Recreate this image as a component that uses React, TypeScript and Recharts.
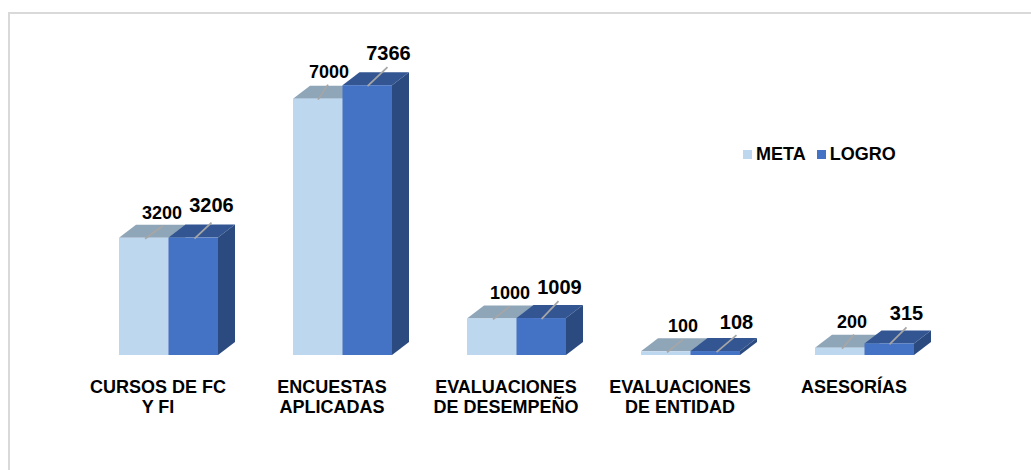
import { BarChart, Bar, XAxis, YAxis, Legend, LabelList } from "recharts"

const categories = [
  "CURSOS DE FC\nY FI",
  "ENCUESTAS\nAPLICADAS",
  "EVALUACIONES\nDE DESEMPEÑO",
  "EVALUACIONES\nDE ENTIDAD",
  "ASESORÍAS",
]
const meta = [3200, 7000, 1000, 100, 200]
const logro = [3206, 7366, 1009, 108, 315]

// hand placed data labels, [dx from bar left, dy from bar top]
const metaLabelPos = [[43, -25], [36, -27], [43, -25], [42, -25], [37, -26]]
const logroLabelPos = [[43, -33], [46, -32], [43, -31], [46, -29], [42, -30]]
// leader line: [x1, x2, y2], relative to bar left / top
const metaLeader = [[26, 44, -12], [25, 35, -14], [26, 43, -12], [26, 42, -12], [27, 39, -13]]
const logroLeader = [[26, 43, -15], [25, 45, -18], [25, 42, -17], [26, 46, -16], [25, 42, -16]]

const data = categories.map((name, i) => ({ name, meta: meta[i], logro: logro[i] }))

const DEPTH_X = 17
const DEPTH_Y = 13

function Bar3D({ x, y, width, height, fill, topFill, sideFill }: any) {
  const r = x + width
  const b = y + height
  return (
    <g>
      <polygon
        points={`${x},${y} ${x + DEPTH_X},${y - DEPTH_Y} ${r + DEPTH_X},${y - DEPTH_Y} ${r},${y}`}
        fill={topFill}
      />
      <polygon
        points={`${r},${y} ${r + DEPTH_X},${y - DEPTH_Y} ${r + DEPTH_X},${b - DEPTH_Y} ${r},${b}`}
        fill={sideFill}
      />
      <rect x={x} y={y} width={width} height={height} fill={fill} />
    </g>
  )
}

function DataLabel({ x, y, index, value, pos, leader, fontSize }: any) {
  const [dx, dy] = pos[index]
  const [x1, x2, y2] = leader[index]
  return (
    <g>
      <line x1={x + x1} y1={y + 1} x2={x + x2} y2={y + y2} stroke="#a6a6a6" strokeWidth={1.75} />
      <text
        x={x + dx}
        y={y + dy}
        textAnchor="middle"
        dominantBaseline="central"
        fontFamily="Liberation Sans"
        fontWeight="bold"
        fontSize={fontSize}
        fill="#000"
      >
        {value}
      </text>
    </g>
  )
}

function CategoryTick({ x, y, payload }: any) {
  const lines = String(payload.value).split("\n")
  return (
    <text
      x={x - 10}
      y={y}
      textAnchor="middle"
      fontFamily="Liberation Sans"
      fontWeight="bold"
      fontSize={18}
      fill="#000"
    >
      {lines.map((line, i) => (
        <tspan key={i} x={x - 10} dy={i === 0 ? 0 : 20}>
          {line}
        </tspan>
      ))}
    </text>
  )
}

function LegendBox({ payload }: any) {
  return (
    <div style={{ display: "flex", alignItems: "center", fontFamily: "Liberation Sans", fontWeight: "bold", fontSize: 18 }}>
      {payload.map((p: any) => (
        <span key={p.value} style={{ display: "flex", alignItems: "center", marginRight: 11 }}>
          <span style={{ width: 9, height: 9, background: p.color, marginRight: 4 }} />
          {p.value}
        </span>
      ))}
    </div>
  )
}

export default function App() {
  return (
    <div
      style={{
        position: "absolute",
        left: 8,
        top: 12,
        width: 1023,
        height: 458,
        borderLeft: "2px solid #d9d9d9",
        borderTop: "2px solid #d9d9d9",
        boxSizing: "border-box",
      }}
    >
      <div style={{ position: "absolute", left: -10, top: -14 }}>
        <BarChart
          width={1031}
          height={470}
          data={data}
          margin={{ top: 62, right: 80, bottom: 64, left: 81 }}
          barGap={0}
          barSize={49.5}
        >
          <YAxis hide domain={[0, 8000]} />
          <XAxis dataKey="name" axisLine={false} tickLine={false} tick={<CategoryTick />} tickMargin={32} interval={0} />
          <Legend
            content={<LegendBox />}
            itemSorter={null}
            wrapperStyle={{ position: "absolute", left: 743, top: 144, width: 200, bottom: "auto" }}
          />
          <Bar
            dataKey="meta"
            name="META"
            fill="#bdd7ee"
            isAnimationActive={false}
            shape={<Bar3D topFill="#8fa5b8" sideFill="#8fa5b8" />}
          >
            <LabelList
              dataKey="meta"
              content={<DataLabel pos={metaLabelPos} leader={metaLeader} fontSize={18} />}
            />
          </Bar>
          <Bar
            dataKey="logro"
            name="LOGRO"
            fill="#4472c4"
            isAnimationActive={false}
            shape={<Bar3D topFill="#335693" sideFill="#2a4a80" />}
          >
            <LabelList
              dataKey="logro"
              content={<DataLabel pos={logroLabelPos} leader={logroLeader} fontSize={20} />}
            />
          </Bar>
        </BarChart>
      </div>
    </div>
  )
}
